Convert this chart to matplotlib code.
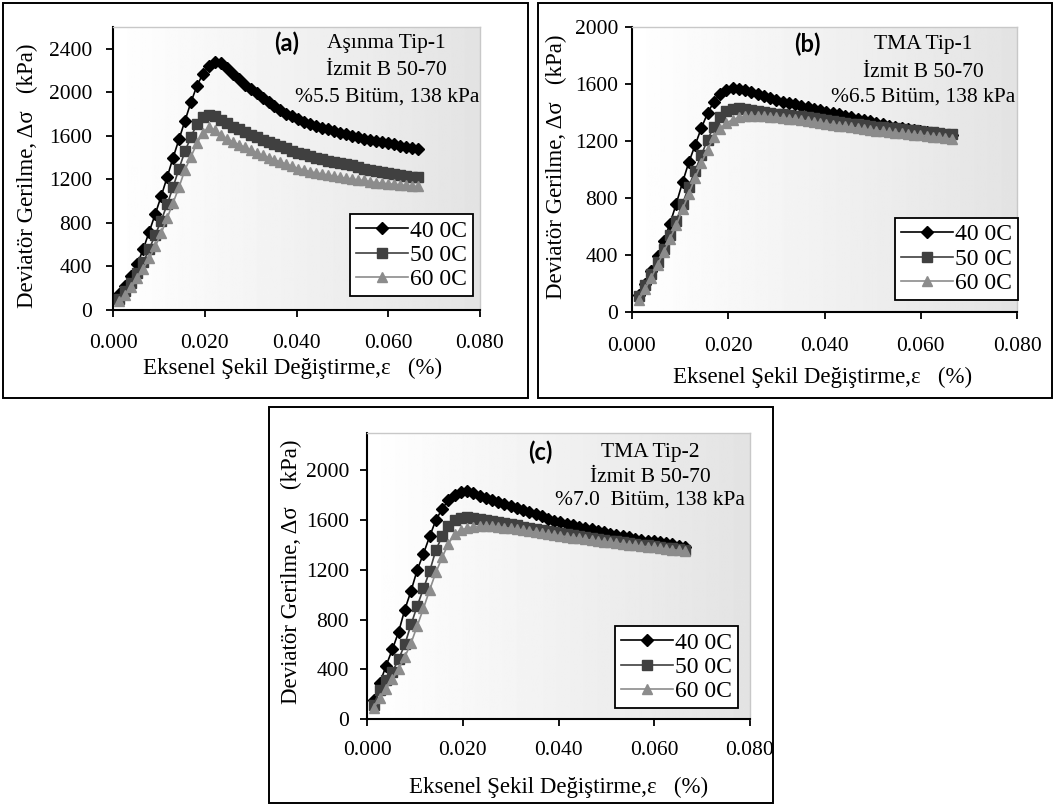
import numpy as np
import matplotlib
matplotlib.use("Agg")
import matplotlib.pyplot as plt
from matplotlib.patches import Rectangle

plt.rcParams["font.family"] = ["Liberation Serif", "DejaVu Serif"]

# axial strain (shared by every series)
strain = [0.0014, 0.0027, 0.0040, 0.0053, 0.0066, 0.0079, 0.0092, 0.0105, 0.0118, 0.0131,
          0.0144, 0.0157, 0.0170, 0.0183, 0.0196, 0.0209, 0.0222, 0.0235, 0.0248, 0.0261,
          0.0274, 0.0287, 0.0300, 0.0313, 0.0326, 0.0339, 0.0352, 0.0365, 0.0378, 0.0391,
          0.0404, 0.0417, 0.0430, 0.0443, 0.0456, 0.0469, 0.0482, 0.0495, 0.0508, 0.0521,
          0.0534, 0.0547, 0.0560, 0.0573, 0.0586, 0.0599, 0.0612, 0.0625, 0.0638, 0.0651,
          0.0664]

# panel (a) - Asinma Tip-1
a_40 = [150, 225, 315, 420, 560, 720, 880, 1045, 1220, 1400,
        1570, 1740, 1910, 2060, 2170, 2240, 2275, 2265, 2220, 2170,
        2120, 2070, 2030, 1990, 1950, 1910, 1870, 1840, 1805, 1780,
        1755, 1730, 1710, 1690, 1675, 1660, 1645, 1630, 1615, 1600,
        1590, 1575, 1565, 1555, 1545, 1535, 1525, 1510, 1500, 1490,
        1475]
a_50 = [100, 170, 250, 340, 440, 560, 690, 820, 970, 1130,
        1300, 1460, 1590, 1710, 1770, 1790, 1780, 1750, 1715, 1685,
        1660, 1635, 1610, 1590, 1565, 1545, 1525, 1505, 1485, 1465,
        1445, 1430, 1415, 1400, 1385, 1370, 1360, 1350, 1340, 1330,
        1315, 1300, 1290, 1280, 1270, 1260, 1250, 1240, 1230, 1225,
        1220]
a_60 = [80, 140, 210, 290, 380, 475, 585, 705, 845, 985,
        1130, 1290, 1410, 1530, 1630, 1680, 1650, 1610, 1575, 1545,
        1520, 1495, 1470, 1445, 1420, 1400, 1380, 1360, 1340, 1320,
        1300, 1285, 1270, 1260, 1250, 1240, 1230, 1220, 1210, 1205,
        1195, 1190, 1180, 1170, 1165, 1160, 1155, 1150, 1145, 1140,
        1135]

# panel (b) - TMA Tip-1
b_40 = [120, 200, 290, 390, 500, 620, 760, 910, 1050, 1170,
        1290, 1395, 1475, 1530, 1560, 1572, 1568, 1558, 1545, 1530,
        1515, 1500, 1488, 1477, 1467, 1457, 1447, 1437, 1427, 1417,
        1407, 1397, 1387, 1377, 1367, 1357, 1347, 1337, 1327, 1317,
        1307, 1297, 1288, 1281, 1274, 1268, 1262, 1256, 1250, 1245,
        1240]
b_50 = [110, 190, 270, 350, 440, 540, 640, 760, 880, 990,
        1100, 1210, 1300, 1365, 1410, 1425, 1430, 1428, 1420, 1412,
        1405, 1398, 1392, 1387, 1382, 1377, 1372, 1366, 1360, 1352,
        1345, 1340, 1334, 1328, 1322, 1316, 1310, 1305, 1300, 1296,
        1292, 1288, 1284, 1280, 1276, 1270, 1266, 1262, 1258, 1252,
        1247]
b_60 = [85, 160, 240, 330, 420, 515, 610, 720, 830, 940,
        1045, 1140, 1225, 1285, 1325, 1350, 1365, 1372, 1375, 1375,
        1373, 1370, 1366, 1362, 1357, 1352, 1346, 1340, 1334, 1327,
        1320, 1314, 1308, 1302, 1296, 1290, 1284, 1278, 1273, 1268,
        1263, 1258, 1253, 1249, 1245, 1241, 1236, 1231, 1226, 1220,
        1215]

# panel (c) - TMA Tip-2
c_40 = [150, 290, 430, 560, 700, 880, 1030, 1200, 1330, 1470,
        1600, 1690, 1760, 1805, 1825, 1830, 1815, 1795, 1775, 1760,
        1745, 1728, 1712, 1698, 1682, 1665, 1650, 1630, 1610, 1595,
        1582, 1570, 1558, 1546, 1535, 1525, 1512, 1500, 1490, 1480,
        1470, 1460, 1450, 1442, 1435, 1428, 1420, 1412, 1405, 1395,
        1385]
c_50 = [115, 235, 310, 380, 480, 600, 760, 910, 1050, 1190,
        1360, 1470, 1550, 1600, 1620, 1622, 1615, 1608, 1600, 1592,
        1584, 1575, 1566, 1557, 1548, 1540, 1531, 1522, 1513, 1504,
        1496, 1488, 1480, 1472, 1464, 1456, 1449, 1442, 1435, 1428,
        1421, 1414, 1408, 1402, 1396, 1390, 1384, 1378, 1372, 1366,
        1360]
c_60 = [90, 165, 245, 320, 400, 500, 610, 750, 890, 1040,
        1180, 1300, 1410, 1485, 1520, 1535, 1545, 1550, 1552, 1550,
        1546, 1540, 1533, 1526, 1519, 1511, 1503, 1495, 1487, 1480,
        1473, 1466, 1459, 1452, 1445, 1438, 1432, 1426, 1420, 1414,
        1408, 1402, 1396, 1390, 1385, 1380, 1374, 1368, 1362, 1356,
        1350]

series_labels = ["40 0C", "50 0C", "60 0C"]
x_ticks = [0.0, 0.02, 0.04, 0.06, 0.08]
x_tick_labels = ["0.000", "0.020", "0.040", "0.060", "0.080"]

W, H = 1056, 807
fig = plt.figure(figsize=(W / 100, H / 100), dpi=100)


def fig_rect(l, t, r, b):
    return [l / W, 1 - b / H, (r - l) / W, (b - t) / H]


def draw_panel(box, area, ys, ymax, tag, lines, tag_x, text_x, text_y,
               leg_anchor, ylab_pos, xlab_pos, ypad, xpad):
    fig.patches.append(Rectangle((box[0] / W, 1 - box[3] / H),
                                 (box[2] - box[0]) / W, (box[3] - box[1]) / H,
                                 transform=fig.transFigure, fill=False,
                                 edgecolor="black", linewidth=1.4))
    ax = fig.add_axes(fig_rect(*area))
    grad = np.linspace(1.0, 0.89, 256).reshape(1, -1)
    ax.imshow(grad, cmap="gray", vmin=0, vmax=1, aspect="auto",
              extent=[0, 1, 0, 1], transform=ax.transAxes, zorder=0)

    styles = [("black", "D", 6), ("#404040", "s", 6.5), ("#8c8c8c", "^", 7)]
    for y, lab, (col, mk, ms) in zip(ys, series_labels, styles):
        ax.plot(strain, y, color=col, marker=mk, markersize=ms, linewidth=1.2,
                label=lab, zorder=3)

    ax.set_xlim(0, 0.08)
    ax.set_ylim(0, ymax)
    ax.set_xticks(x_ticks)
    ax.set_xticklabels(x_tick_labels)
    ax.set_yticks(np.arange(0, ymax + 1, 400))
    ax.tick_params(axis="both", labelsize=15.5, direction="out", length=5,
                   width=1.3, color="black")
    ax.tick_params(axis="x", pad=xpad)
    ax.tick_params(axis="y", pad=ypad)
    for s in ["left", "bottom"]:
        ax.spines[s].set_linewidth(1.5)
    for s in ["top", "right"]:
        ax.spines[s].set_color("#c8c8c8")
        ax.spines[s].set_linewidth(1.0)

    ax.set_ylabel("Deviatör Gerilme, Δσ   (kPa)", fontsize=16.5, va="center")
    ax.yaxis.set_label_coords(*ylab_pos)
    ax.set_xlabel("Eksenel Şekil Değiştirme,ε   (%)", fontsize=16.5, va="center")
    ax.xaxis.set_label_coords(*xlab_pos)

    ax.text(tag_x, text_y[0], tag, transform=ax.transAxes, ha="center",
            va="center", fontsize=17, fontweight="bold", family="Lato")
    for ty, line in zip(text_y, lines):
        ax.text(text_x, ty, line, transform=ax.transAxes, ha="center",
                va="center", fontsize=15.5)

    leg = ax.legend(loc="lower right", bbox_to_anchor=leg_anchor, fontsize=17,
                    frameon=True, fancybox=False, edgecolor="black",
                    framealpha=1, handlelength=2.2, handletextpad=0.1,
                    labelspacing=0.12, borderpad=0.25, borderaxespad=0)
    leg.get_frame().set_linewidth(1.3)
    return ax


draw_panel((3, 3, 528, 398), (113, 27, 480, 310), [a_40, a_50, a_60], 2600,
           "(a)", ["Aşınma Tip-1", "İzmit B 50-70", "%5.5 Bitüm, 138 kPa"],
           0.474, 0.746, [0.943, 0.845, 0.753], (0.981, 0.049),
           (-0.232, 0.473), (0.49, -0.205), 10, 12)

draw_panel((538, 3, 1052, 398), (632, 27, 1017, 312), [b_40, b_50, b_60], 2000,
           "(b)", ["TMA Tip-1", "İzmit B 50-70", "%6.5 Bitüm, 138 kPa"],
           0.455, 0.756, [0.940, 0.842, 0.754], (1.003, 0.042),
           (-0.195, 0.51), (0.496, -0.228), 5, 13)

draw_panel((269, 407, 773, 803), (367, 433, 750, 719), [c_40, c_50, c_60], 2300,
           "(c)", ["TMA Tip-2", "İzmit B 50-70", "%7.0  Bitüm, 138 kPa"],
           0.452, 0.739, [0.932, 0.846, 0.766], (0.969, 0.038),
           (-0.196, 0.514), (0.5, -0.238), 8, 11)

fig.savefig("out.png", dpi=100, facecolor="white")
